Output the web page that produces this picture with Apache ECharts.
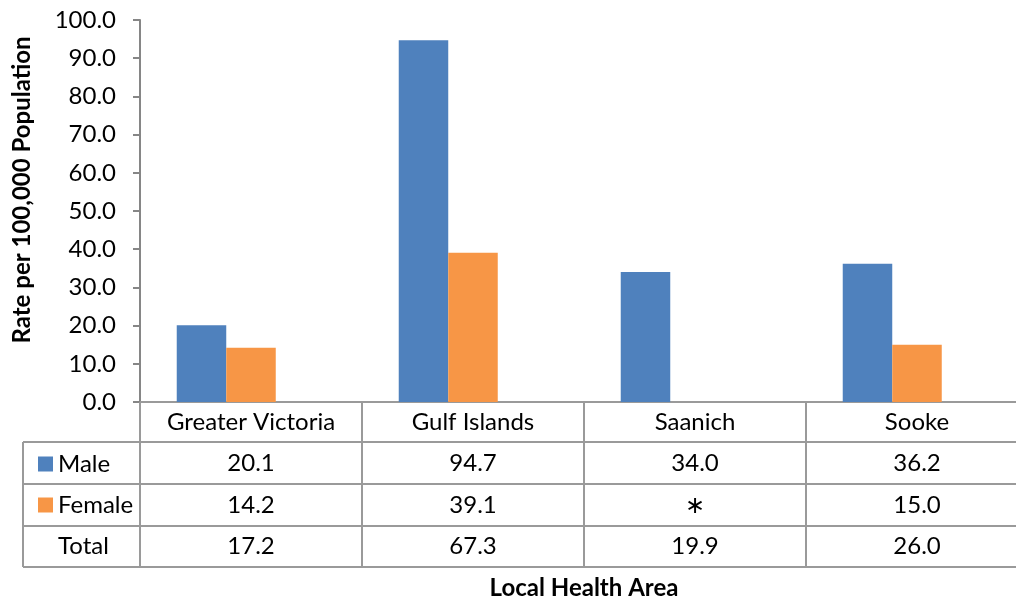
<!DOCTYPE html>
<html>
<head>
<meta charset="utf-8">
<script src="https://cdn.jsdelivr.net/npm/echarts@6/dist/echarts.min.js"></script>
<style>
  html, body { margin: 0; padding: 0; background: #fff; }
  #main { width: 1016px; height: 600px; }
</style>
</head>
<body>
<div id="main"></div>
<script>
// data
var categories = ['Greater Victoria', 'Gulf Islands', 'Saanich', 'Sooke'];
var maleRates = [20.1, 94.7, 34.0, 36.2];
var femaleRates = [14.2, 39.1, null, 15.0];   // suppressed value shown as *
var totalRates = [17.2, 67.3, 19.9, 26.0];    // plotted with no fill, as in the source chart
var yTicks = [0, 10, 20, 30, 40, 50, 60, 70, 80, 90, 100];

(function () {
  var FONT = 'Lato, "Open Sans", sans-serif';
  var FS = 24;
  var GRID_LEFT = 140, GRID_TOP = 20, GRID_W = 888, PLOT_BOTTOM = 402;
  var TABLE_LEFT = 23;
  var rowTops = [40, 82, 124, 165];   // offsets below the plot bottom
  var LINE = '#9a9a9a';

  function fmt(v) { return v == null ? '\u2217' : v.toFixed(1); }

  function rowAxis(offset, labels, margin) {
    return {
      type: 'category', gridIndex: 0, position: 'bottom', offset: offset,
      data: labels,
      axisLine: { show: true, lineStyle: { color: LINE, width: 2 } },
      axisTick: { show: false },
      axisLabel: { show: true, interval: 0, margin: margin, color: '#000', fontSize: FS, fontFamily: FONT },
      splitLine: { show: false }
    };
  }

  var chart = echarts.init(document.getElementById('main'));

  // left column borders of the data table
  var graphics = [];
  rowTops.forEach(function (t) {
    graphics.push({
      type: 'line', shape: { x1: TABLE_LEFT, y1: PLOT_BOTTOM + t, x2: GRID_LEFT, y2: PLOT_BOTTOM + t },
      style: { stroke: LINE, lineWidth: 2 }, silent: true
    });
  });
  graphics.push({
    type: 'line', shape: { x1: TABLE_LEFT, y1: PLOT_BOTTOM + rowTops[0], x2: TABLE_LEFT, y2: PLOT_BOTTOM + rowTops[3] },
    style: { stroke: LINE, lineWidth: 2 }, silent: true
  });

  var option = {
    animation: false,
    backgroundColor: '#fff',
    grid: { left: GRID_LEFT, top: GRID_TOP, width: GRID_W, bottom: 600 - PLOT_BOTTOM, outerBoundsMode: 'none' },
    legend: {
      data: ['Male', 'Female', 'Total'],
      orient: 'vertical', left: 33, top: 447,
      icon: 'rect', itemWidth: 15, itemHeight: 15, itemGap: 17,
      selectedMode: false,
      textStyle: { color: '#000', fontSize: FS, fontFamily: FONT, lineHeight: 24 }
    },
    xAxis: [
      {
        type: 'category', gridIndex: 0, position: 'bottom',
        data: categories,
        axisLine: { show: true, lineStyle: { color: LINE, width: 2 } },
        axisTick: { show: true, interval: 0, length: rowTops[3], lineStyle: { color: LINE, width: 2 } },
        axisLabel: { show: true, interval: 0, margin: 8, color: '#000', fontSize: FS, fontFamily: FONT },
        splitLine: { show: false }
      },
      rowAxis(rowTops[0], maleRates.map(fmt), 9),
      rowAxis(rowTops[1], femaleRates.map(fmt), 9),
      rowAxis(rowTops[2], totalRates.map(fmt), 8),
      {
        type: 'category', gridIndex: 0, position: 'bottom', offset: rowTops[3],
        data: categories,
        name: 'Local Health Area', nameLocation: 'middle', nameGap: 9,
        nameTextStyle: { color: '#000', fontSize: FS, fontWeight: 'bold', fontFamily: FONT },
        axisLine: { show: true, lineStyle: { color: LINE, width: 2 } },
        axisTick: { show: false },
        axisLabel: { show: false },
        splitLine: { show: false }
      }
    ],
    yAxis: {
      type: 'value', min: yTicks[0], max: yTicks[yTicks.length - 1], interval: 10,
      name: 'Rate per 100,000 Population', nameLocation: 'middle', nameGap: 106,
      nameTextStyle: { color: '#000', fontSize: FS, fontWeight: 'bold', fontFamily: FONT, padding: [0, 0, 0, 42] },
      axisLine: { show: true, lineStyle: { color: '#868686', width: 2 } },
      axisTick: { show: true, length: 7, lineStyle: { color: '#868686', width: 2 } },
      axisLabel: {
        margin: 24, color: '#000', fontSize: FS, fontFamily: FONT,
        formatter: function (v) { return v.toFixed(1); }
      },
      splitLine: { show: false }
    },
    graphic: graphics,
    series: [
      {
        name: 'Male', type: 'bar', xAxisIndex: 0,
        barWidth: '22.3%', barGap: '0%',
        itemStyle: { color: '#4F81BD' },
        data: maleRates
      },
      {
        name: 'Female', type: 'bar', xAxisIndex: 0,
        barWidth: '22.3%', barGap: '0%',
        itemStyle: { color: '#F79646' },
        data: femaleRates
      },
      {
        name: 'Total', type: 'bar', xAxisIndex: 0,
        barWidth: '22.3%', barGap: '0%',
        itemStyle: { color: 'rgba(0,0,0,0)' },
        silent: true,
        data: totalRates
      }
    ]
  };
  chart.setOption(option);
})();
</script>
</body>
</html>
